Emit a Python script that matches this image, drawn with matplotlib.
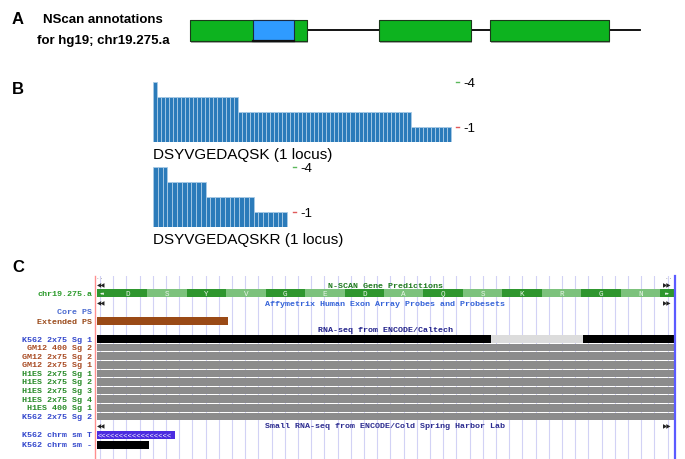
import numpy as np
import matplotlib.pyplot as plt

W, H = 685, 460

# Panel A: NScan gene model (positions relative to start of first exon)
exon_starts = [0, 189, 300]
exon_ends = [117, 281, 419]
cds_start, cds_end = 63, 104
gene_end = 450

# Panel B: peptide coverage (number of spectra per position)
pep1_name = 'DSYVGEDAQSK (1 locus)'
pep1_counts = [4,
               3, 3, 3, 3, 3, 3, 3, 3, 3, 3, 3, 3, 3, 3, 3, 3, 3, 3, 3, 3,
               2, 2, 2, 2, 2, 2, 2, 2, 2, 2, 2, 2, 2, 2, 2, 2, 2, 2, 2, 2,
               2, 2, 2, 2, 2, 2, 2, 2, 2, 2, 2, 2, 2, 2, 2, 2, 2, 2, 2, 2,
               2, 2, 2,
               1, 1, 1, 1, 1, 1, 1, 1, 1, 1]
pep2_name = 'DSYVGEDAQSKR (1 locus)'
pep2_counts = [4, 4, 4,
               3, 3, 3, 3, 3, 3, 3, 3,
               2, 2, 2, 2, 2, 2, 2, 2, 2, 2,
               1, 1, 1, 1, 1, 1, 1]
tick_values = [4, 1]
tick_labels = ['-4', '-1']
tick_colors = ['#5cb85c', '#e05a5a']

# Panel C: genome browser window (0..580 window units)
window = 580
amino_acids = list('DSYVGEDAQSKRGN')
aa_start, aa_end = 13, 565
ext_ps = [(2, 131)]
k562_sg1_cover = [(2, 394), (488, 92)]
k562_sg1_gap = [(396, 92)]
rna_labels = ['K562 2x75 Sg 1', 'GM12 400 Sg 2', 'GM12 2x75 Sg 2',
              'GM12 2x75 Sg 1', 'H1ES 2x75 Sg 1', 'H1ES 2x75 Sg 2',
              'H1ES 2x75 Sg 3', 'H1ES 2x75 Sg 4', 'H1ES 400 Sg 1',
              'K562 2x75 Sg 2']
small_t = [(2, 78)]
small_minus = [(2, 52)]

cell_colors = {'K562': '#3347cc', 'GM12': '#a84a22', 'H1ES': '#278a27'}
MONO = 'Liberation Mono'


def px_axes(fig, x0, y0, x1, y1):
    return fig.add_axes([x0 / W, 1 - y1 / H, (x1 - x0) / W, (y1 - y0) / H])


def bar_panel(fig, counts, x0, base, px_per_bar, label, label_y):
    n = len(counts)
    wpx = (n + 1) * px_per_bar
    ax = px_axes(fig, x0, base - 60, x0 + wpx, base)
    ax.bar(np.arange(n), counts, width=1, color='#2b7bba',
           edgecolor='#a9cbe6', linewidth=0.6)
    ax.set_xlim(-0.5, n + 0.5)
    ax.set_ylim(0, 4)
    for s in ax.spines.values():
        s.set_visible(False)
    ax.set_xticks([])
    ax.yaxis.tick_right()
    ax.set_yticks(tick_values)
    ax.set_yticklabels(tick_labels, fontsize=9.5, family='Liberation Sans')
    ax.tick_params(axis='y', length=0, pad=6)
    for v, c in zip(tick_values, tick_colors):
        ax.plot([1 + 1 / wpx, 1 + 4 / wpx], [v, v], color=c, lw=1,
                transform=ax.get_yaxis_transform(), clip_on=False)
    fig.text(x0 / W, 1 - label_y / H, label, fontsize=11,
             family='Liberation Sans', va='center')
    return ax


fig = plt.figure(figsize=(W / 100, H / 100), dpi=100)

# ---- panel letters
for letter, y in [('A', 19), ('B', 90), ('C', 268)]:
    fig.text(12 / W, 1 - y / H, letter, fontsize=12, fontweight='bold',
             family='Liberation Sans', va='center')

# ---- panel A
fig.text(103 / W, 1 - 20 / H, 'NScan annotations', fontsize=9.5,
         fontweight='bold', family='Liberation Sans', ha='center', va='center')
fig.text(103 / W, 1 - 41 / H, 'for hg19; chr19.275.a', fontsize=9.5,
         fontweight='bold', family='Liberation Sans', ha='center', va='center')

ax_a = px_axes(fig, 185, 10, 655, 52)
ax_a.set_xlim(-5, 465)
ax_a.set_ylim(42, 0)
ax_a.axis('off')
ax_a.plot([exon_ends[0], gene_end], [21, 21], color='black', lw=1.3, zorder=1)
exons = [(s, e - s) for s, e in zip(exon_starts, exon_ends)]
ax_a.broken_barh([(s + 1, w) for s, w in exons], (12.5, 21),
                 facecolor='#444444', alpha=0.45, zorder=2)
ax_a.broken_barh(exons, (10.5, 21), facecolor='#0db31f',
                 edgecolor='#1a3a1a', linewidth=0.8, zorder=3)
ax_a.broken_barh([(cds_start, cds_end - cds_start)], (10.5, 21),
                 facecolor='#2f9bff', edgecolor='#1a2a40', linewidth=0.8,
                 zorder=4)
ax_a.plot([cds_start, cds_end], [31.5, 31.5], color='#111111', lw=1.6,
          zorder=5)

# ---- panel B
bar_panel(fig, pep1_counts, 153, 143, 4.03, pep1_name, 155)
bar_panel(fig, pep2_counts, 153, 228, 4.79, pep2_name, 240)

# ---- panel C: browser image
ax_c = px_axes(fig, 95, 277, 675, 460)
ax_c.set_xlim(0, window)
ax_c.set_ylim(183, 0)
ax_c.set_axisbelow(True)
for side in ['top', 'bottom']:
    ax_c.spines[side].set_visible(False)
ax_c.spines['left'].set_color('#ff8f8f')
ax_c.spines['left'].set_linewidth(1)
ax_c.spines['right'].set_color('#5b5bff')
ax_c.spines['right'].set_linewidth(1.6)
ax_c.set_xticks(np.arange(5, window, 13.2))
ax_c.set_yticks([])
ax_c.tick_params(length=0, labelbottom=False)
ax_c.grid(axis='x', color='#d2d2f5', lw=0.8)
ax_c.text(5, 1.5, '· ·', ha='center', va='center', fontsize=4, color='#555555')
ax_c.text(574, 1.5, '· ·', ha='center', va='center', fontsize=4,
          color='#555555')


def left_label(y, text, color):
    ax_c.text(-3, y, text, ha='right', va='center', fontsize=6,
              family=MONO, fontweight='bold', color=color, clip_on=False)


def track_title(y, text, color):
    ax_c.text(window / 2, y, text, ha='center', va='center', fontsize=6,
              family=MONO, fontweight='bold', color=color)
    ax_c.text(2, y, '\u25c0\u25c0', ha='left', va='center', fontsize=4,
              family='DejaVu Sans', color='#222222')
    ax_c.text(576, y, '\u25b6\u25b6', ha='right', va='center', fontsize=4,
              family='DejaVu Sans', color='#222222')


# N-SCAN gene predictions
track_title(9, 'N-SCAN Gene Predictions', '#1f7a1f')
left_label(17, 'chr19.275.a', '#2a9a2a')
aa_w = (aa_end - aa_start) / len(amino_acids)
segs = [(aa_start + i * aa_w, aa_w) for i in range(len(amino_acids))]
ax_c.broken_barh([(2, aa_start - 2), (aa_end, window - aa_end)], (13, 8),
                 facecolor='#2e962e')
ax_c.broken_barh(segs, (13, 8),
                 facecolors=['#2e962e' if i % 2 == 0 else '#7cc27c'
                             for i in range(len(segs))])
for (s, w), aa in zip(segs, amino_acids):
    ax_c.text(s + w / 2, 17, aa, ha='center', va='center', fontsize=5.5,
              family=MONO, color='#e8f4e8')
ax_c.text(7.5, 17, '\u25c2\u25c2', ha='center', va='center', fontsize=3.5,
          family='DejaVu Sans', color='#e8f4e8')
ax_c.text(572, 17, '\u25b8\u25b8', ha='center', va='center', fontsize=3.5,
          family='DejaVu Sans', color='#e8f4e8')

# Affymetrix probes
track_title(27, 'Affymetrix Human Exon Array Probes and Probesets', '#3462d8')
left_label(35, 'Core PS', '#4a6ad0')
left_label(45, 'Extended PS', '#9a4a1a')
ax_c.broken_barh(ext_ps, (41, 8), facecolor='#9a4a16')

# RNA-seq Caltech
ax_c.text(window / 2, 54, 'RNA-seq from ENCODE/Caltech', ha='center',
          va='center', fontsize=6, family=MONO, fontweight='bold',
          color='#22228a')
row_y = 63 + 8.6 * np.arange(len(rna_labels))
for y, lab in zip(row_y, rna_labels):
    left_label(y, lab, cell_colors[lab.split()[0]])
ax_c.broken_barh(k562_sg1_cover, (row_y[0] - 3.6, 7.4), facecolor='black')
ax_c.broken_barh(k562_sg1_gap, (row_y[0] - 3.6, 7.4), facecolor='#dcdcdc')
for y in row_y[1:]:
    ax_c.broken_barh([(2, window - 2)], (y - 3.8, 7.6), facecolor='#8c8c8c')

# Small RNA-seq CSHL
track_title(149.5, 'Small RNA-seq from ENCODE/Cold Spring Harbor Lab',
            '#2c2c90')
left_label(159, 'K562 chrm sm T', cell_colors['K562'])
left_label(169, 'K562 chrm sm -', cell_colors['K562'])
ax_c.broken_barh(small_t, (155, 8), facecolor='#4b2be0')
ax_c.text(3, 159, '<' * 17, ha='left', va='center', fontsize=5.2,
          family=MONO, color='white')
ax_c.broken_barh(small_minus, (165, 8), facecolor='black')

fig.savefig('out.png', dpi=100)
